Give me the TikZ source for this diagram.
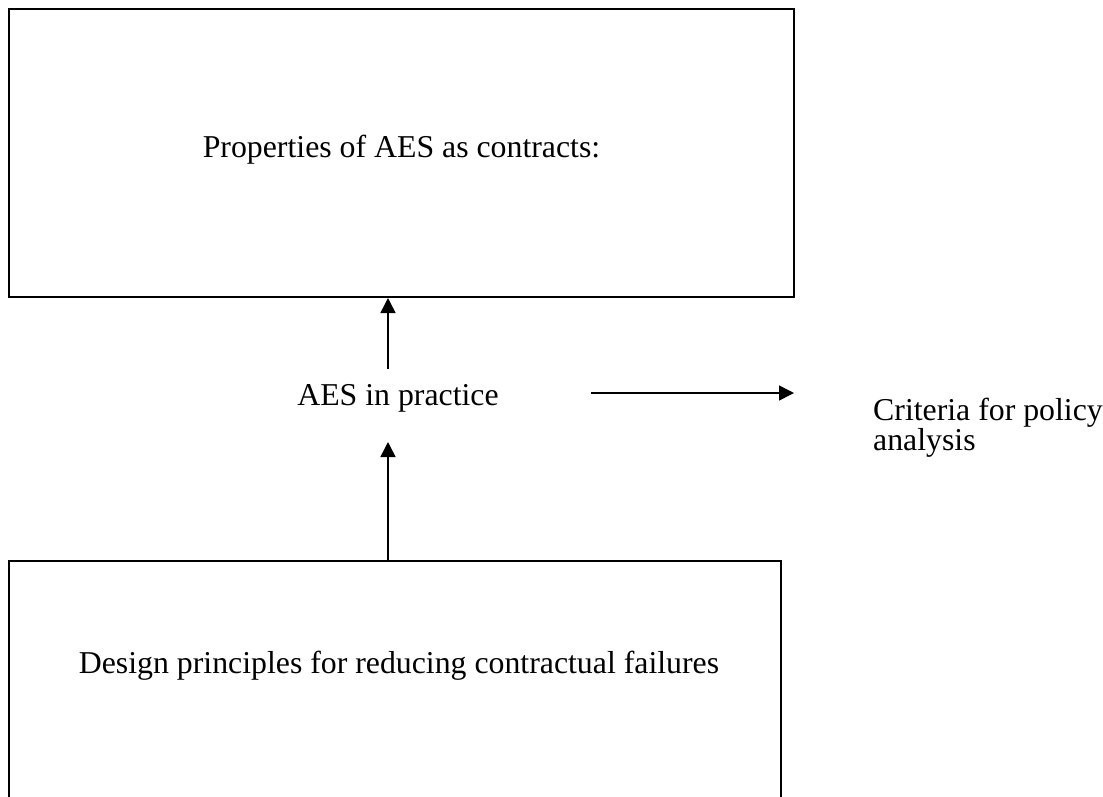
\documentclass[tikz,border=0pt]{standalone}
\usepackage{fontspec}
\setmainfont{Liberation Serif}
\usetikzlibrary{arrows.meta}

\begin{document}
\begin{tikzpicture}[x=1pt, y=-1pt,
    frame/.style={draw, line width=1.3pt, inner sep=0pt},
    caption/.style={font=\fontsize{31.8}{28}\selectfont, inner sep=0pt},
    flow/.style={line width=1.5pt, -{Triangle[length=15pt, width=15pt]}}]
  \useasboundingbox (0,0) rectangle (1103,796);
  \clip (0,0) rectangle (1103,796);

  % boxes
  \node[frame, line width=2pt, minimum width=785pt, minimum height=288pt] (props) at (401.5,153) {};
  \node[frame, minimum width=772pt, minimum height=269pt] (design) at (395,695.5) {};

  % texts
  \node[caption, anchor=base] (propstext) at (401.5,157) {Properties of AES as contracts:};
  \node[caption, anchor=base] (practice) at (398,405) {AES in practice};
  \node[caption, anchor=base] (designtext) at (399,673) {Design principles for reducing contractual failures};
  \node[caption, anchor=base west, align=left] (criteria) at (873,450) {Criteria for policy\\analysis};

  % connectors
  \coordinate (upstart) at (388,369);
  \coordinate (midtip) at (388,442);
  \coordinate (rightstart) at (591,393);
  \coordinate (righttip) at (794,393);
  \draw[flow] (upstart) -- (upstart |- props.south);
  \draw[flow] (midtip |- design.north) -- (midtip);
  \draw[flow] (rightstart) -- (righttip);
\end{tikzpicture}
\end{document}
